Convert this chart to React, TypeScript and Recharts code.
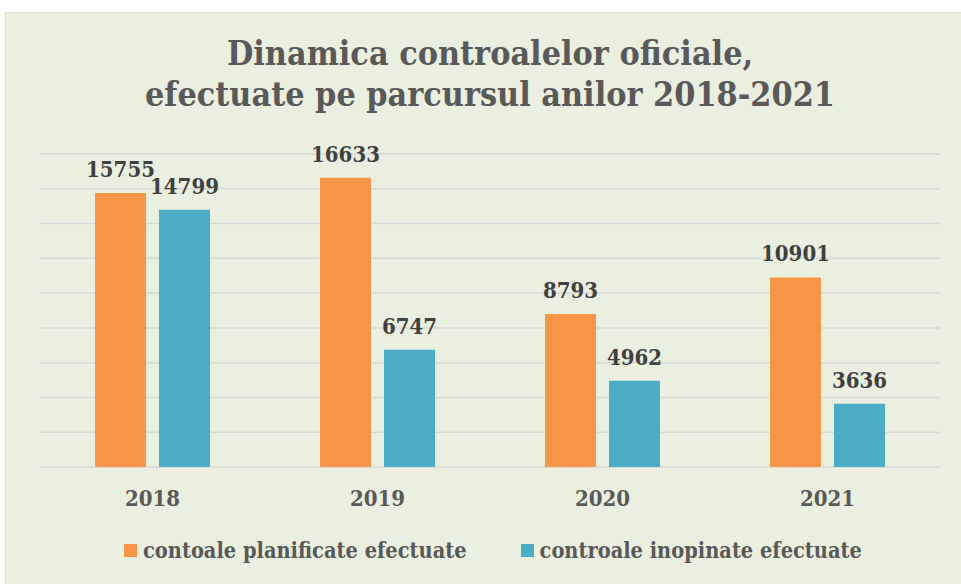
import { Bar, BarChart, CartesianGrid, LabelList, XAxis, YAxis } from 'recharts'

const years = ['2018', '2019', '2020', '2021']
const planificate = [15755, 16633, 8793, 10901]
const inopinate = [14799, 6747, 4962, 3636]
const yTicks = [0, 2000, 4000, 6000, 8000, 10000, 12000, 14000, 16000, 18000]

const SERIES = [
  { key: 'plan', label: 'contoale planificate efectuate', color: '#f79646' },
  { key: 'inop', label: 'controale inopinate efectuate', color: '#4bacc6' },
]

const data = years.map((y, i) => ({ year: y, plan: planificate[i], inop: inopinate[i] }))

const FONT = '"DejaVu Serif", serif'
const textStyle = { fontFamily: FONT, fontWeight: 700, fontStretch: 'condensed' as const }

// legenda desenata separat, sub axa X
function LegendBox() {
  return (
    <div style={{ position: 'absolute', top: 538, left: 124, display: 'flex', gap: 54, ...textStyle, fontSize: 21.6, color: '#595959' }}>
      {SERIES.map((s) => (
        <div key={s.key} style={{ display: 'flex', alignItems: 'center', gap: 6, whiteSpace: 'nowrap' }}>
          <span style={{ width: 13, height: 13, background: s.color, display: 'inline-block' }} />
          {s.label}
        </div>
      ))}
    </div>
  )
}

export default function App() {
  return (
    <div style={{ position: 'fixed', left: 0, top: 0, width: 961, height: 584, background: '#fff', overflow: 'hidden' }}>
      <div style={{ position: 'absolute', left: 5, top: 12, width: 970, height: 590, background: '#ebefdf', border: '1.5px solid #d9d9d9' }} />
      <div style={{ position: 'absolute', left: 0, top: 33, width: 980, textAlign: 'center', ...textStyle, fontSize: 33.8, lineHeight: '41px', color: '#595959' }}>
        Dinamica controalelor oficiale,
        <br />
        efectuate pe parcursul anilor 2018-2021
      </div>
      <div style={{ position: 'absolute', left: 0, top: 0 }}>
        <BarChart width={961} height={584} data={data} margin={{ top: 154, right: 21, bottom: 87, left: 40 }} barSize={51} barGap={13}>
          <CartesianGrid horizontal vertical={false} stroke="#d9d9d9" strokeWidth={1.5} />
          <YAxis hide domain={[0, 18000]} ticks={yTicks} />
          <XAxis dataKey="year" axisLine={false} tickLine={false} tickMargin={17}
            tick={{ ...textStyle, fontSize: 22, fill: '#595959' }} />
          {SERIES.map((s) => (
            <Bar key={s.key} dataKey={s.key} name={s.label} fill={s.color} isAnimationActive={false}>
              <LabelList dataKey={s.key} position="top" offset={16} style={{ ...textStyle, fontSize: 22, fill: '#404040' }} />
            </Bar>
          ))}
        </BarChart>
      </div>
      <LegendBox />
    </div>
  )
}
